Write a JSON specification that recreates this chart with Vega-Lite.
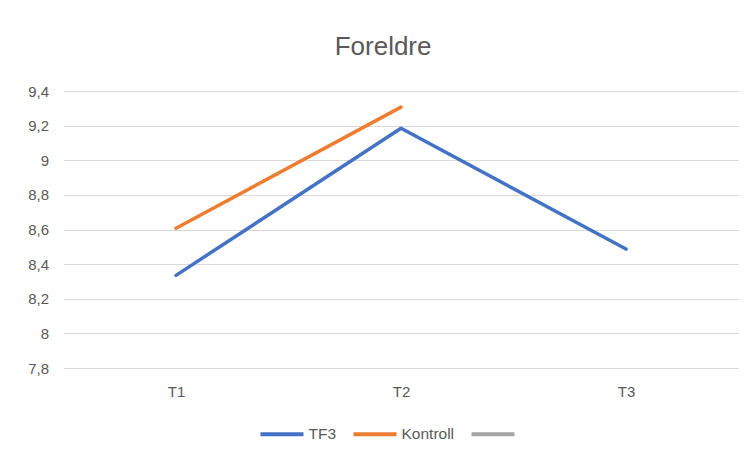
{
  "$schema": "https://vega.github.io/schema/vega-lite/v6.json",
  "autosize": {"type": "none"},
  "padding": {"left": 63.5, "top": 91, "right": 15.5, "bottom": 87},
  "width": 675,
  "height": 277,
  "background": "white",
  "title": {
    "text": "Foreldre",
    "fontSize": 26,
    "font": "Liberation Sans",
    "fontWeight": "normal",
    "color": "#595959",
    "anchor": "middle",
    "frame": "bounds",
    "offset": 24
  },
  "data": {
    "values": [
      {"tid": "T1", "gruppe": "TF3", "verdi": 8.335},
      {"tid": "T2", "gruppe": "TF3", "verdi": 9.185},
      {"tid": "T3", "gruppe": "TF3", "verdi": 8.487},
      {"tid": "T1", "gruppe": "Kontroll", "verdi": 8.607},
      {"tid": "T2", "gruppe": "Kontroll", "verdi": 9.307}
    ]
  },
  "mark": {"type": "line", "strokeWidth": 3.5, "strokeCap": "round", "strokeJoin": "round"},
  "encoding": {
    "x": {
      "field": "tid",
      "type": "nominal",
      "scale": {"type": "point", "padding": 0.5},
      "axis": {
        "title": null,
        "labelAngle": 0,
        "ticks": false,
        "domain": false,
        "labelPadding": 16,
        "labelFontSize": 15,
        "labelFont": "Liberation Sans",
        "labelColor": "#595959"
      }
    },
    "y": {
      "field": "verdi",
      "type": "quantitative",
      "scale": {"domain": [7.8, 9.4], "nice": false, "zero": false},
      "axis": {
        "title": null,
        "values": [7.8, 8, 8.2, 8.4, 8.6, 8.8, 9, 9.2, 9.4],
        "labelExpr": "replace(format(datum.value, '.2~f'), '.', ',')",
        "ticks": false,
        "domain": false,
        "grid": true,
        "gridColor": "#D9D9D9",
        "gridWidth": 1.2,
        "labelPadding": 15,
        "labelFontSize": 15,
        "labelFont": "Liberation Sans",
        "labelColor": "#595959"
      }
    },
    "color": {
      "field": "gruppe",
      "type": "nominal",
      "scale": {"domain": ["TF3", "Kontroll", " "], "range": ["#4472C4", "#ED7D31", "#A5A5A5"]},
      "legend": {
        "title": null,
        "orient": "none",
        "legendX": 195,
        "legendY": 335,
        "direction": "horizontal",
        "symbolType": "stroke",
        "symbolStrokeWidth": 4,
        "symbolSize": 1849,
        "clipHeight": 16,
        "labelFontSize": 15.5,
        "labelFont": "Liberation Sans",
        "labelColor": "#595959",
        "labelOffset": 3,
        "columnPadding": 15
      }
    }
  },
  "config": {"view": {"stroke": null}}
}
